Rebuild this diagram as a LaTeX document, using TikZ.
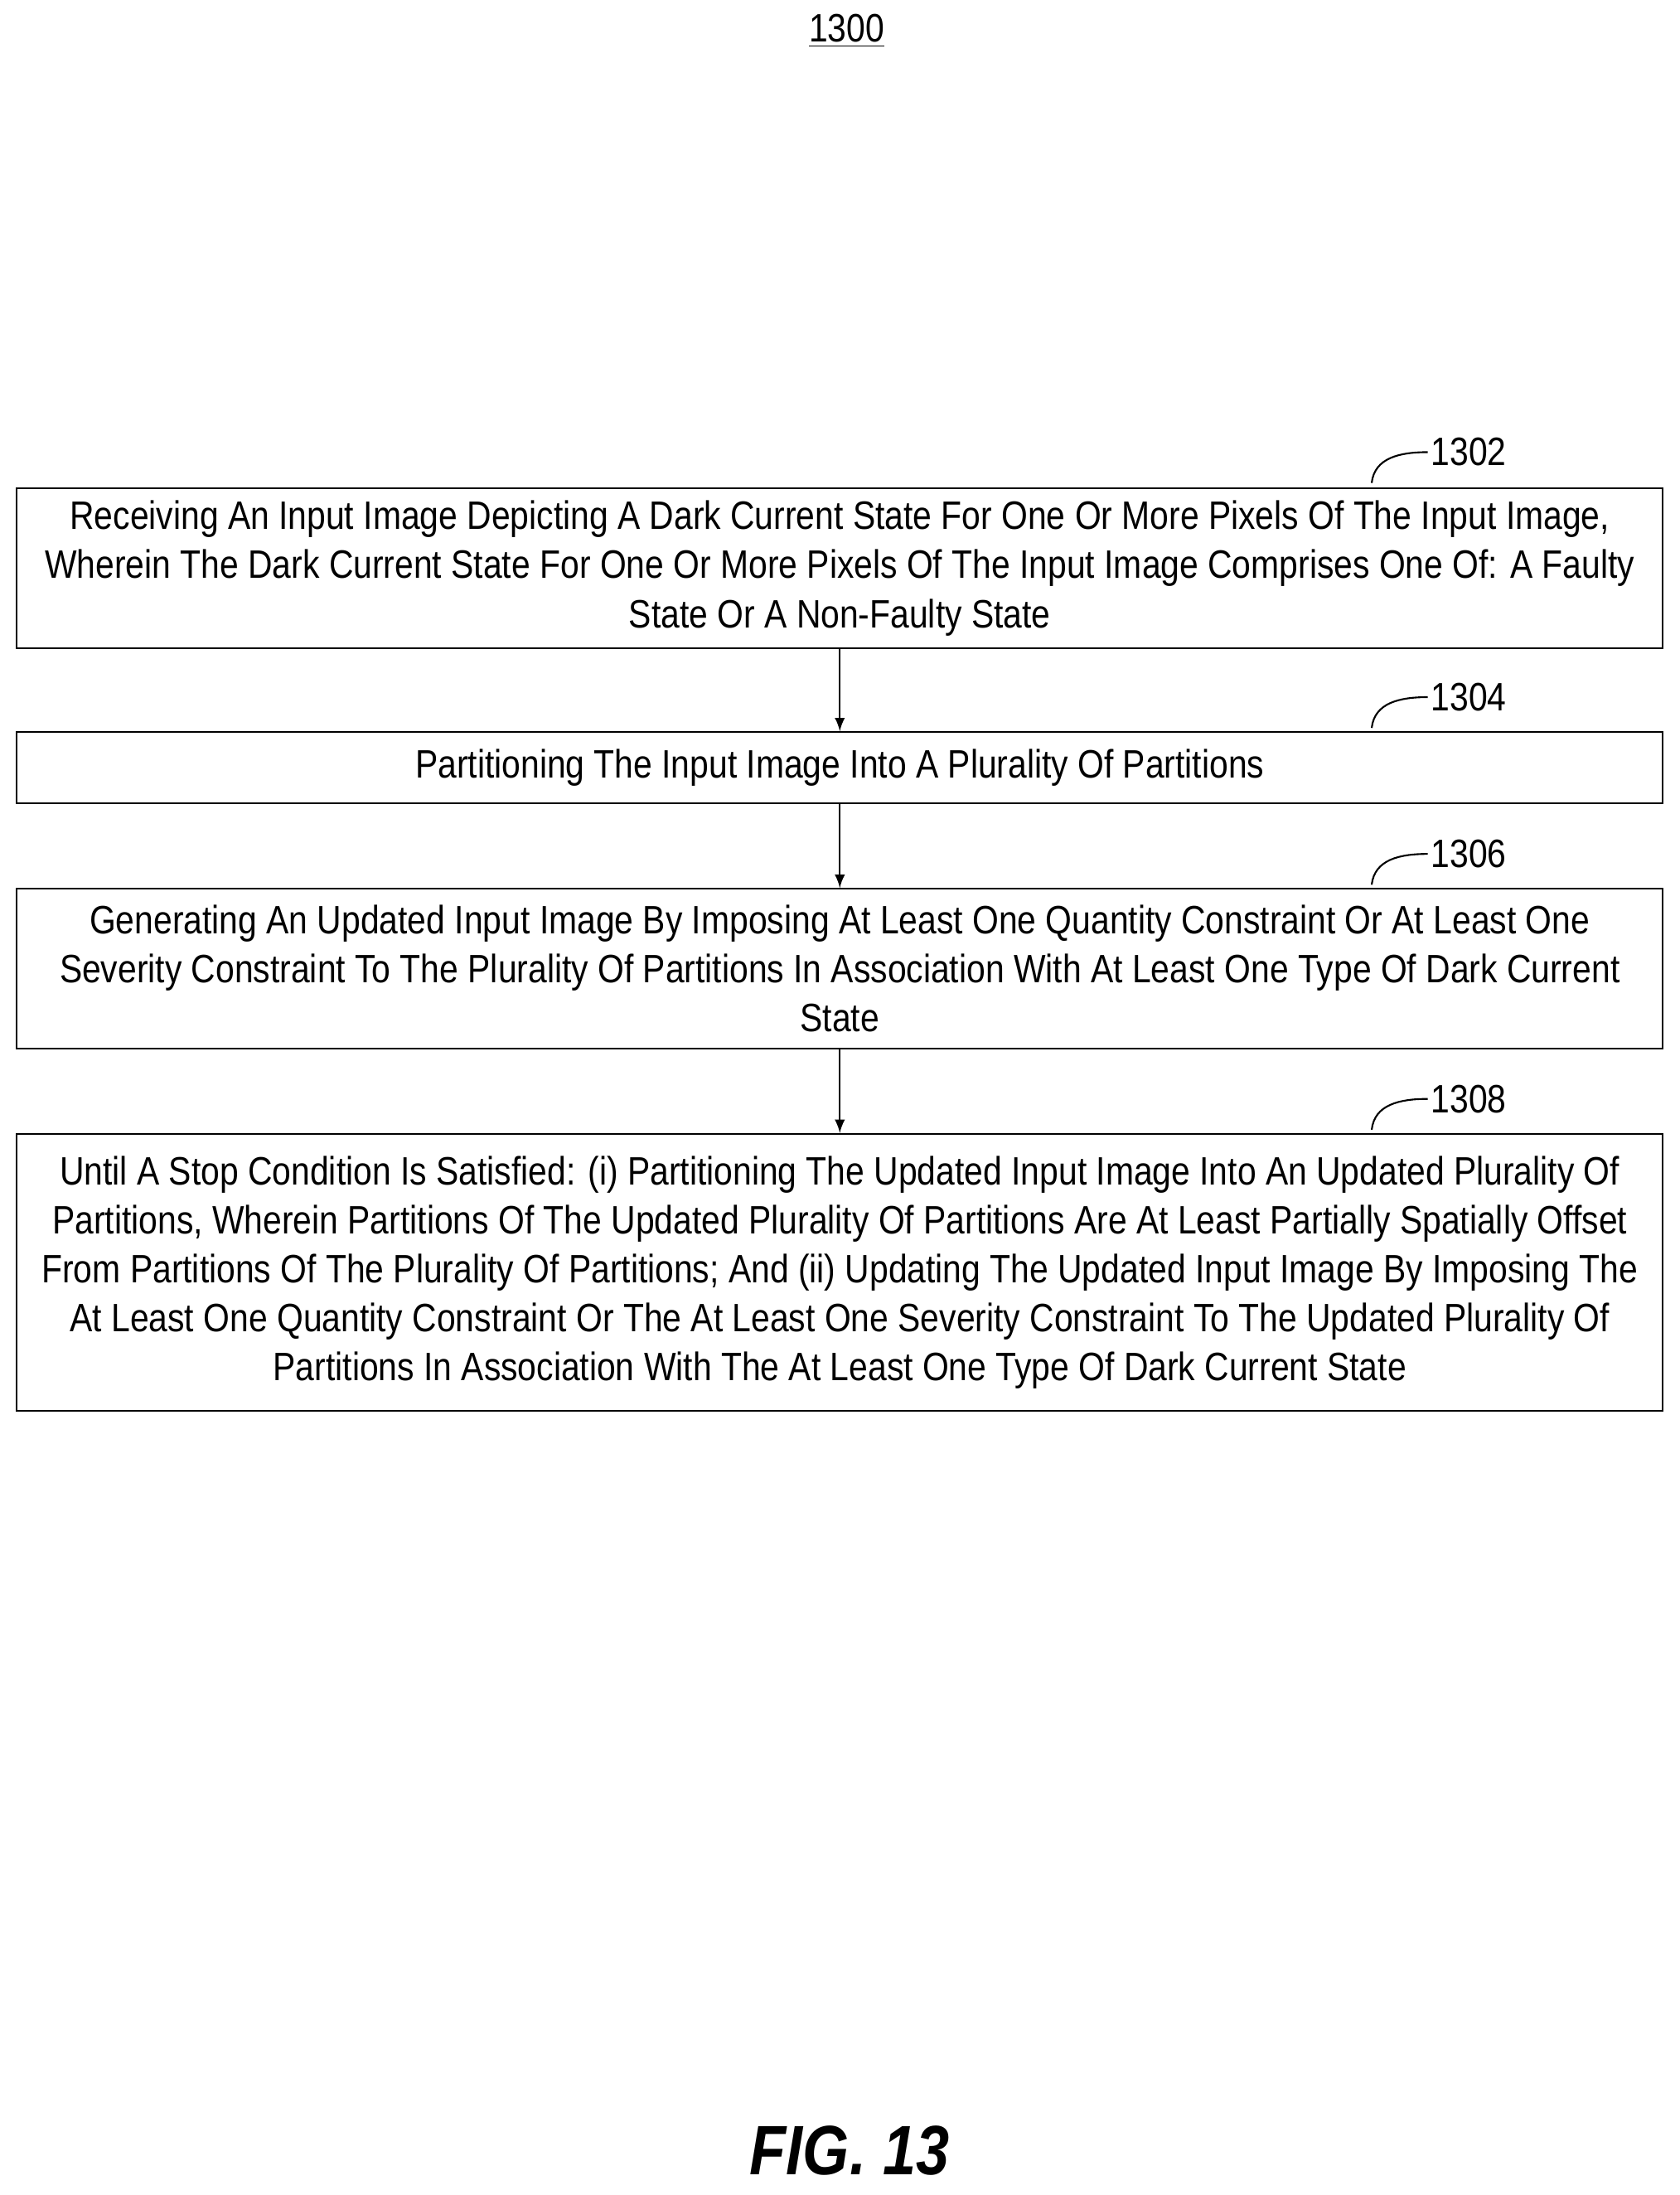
\documentclass[tikz,border=0pt]{standalone}
\usepackage{fontspec}
\setmainfont{Liberation Sans}[FakeStretch=0.855]
\usetikzlibrary{positioning}

\begin{document}
\begin{tikzpicture}[
    x=0.01689cm, y=-0.01689cm,
    stepbox/.style={draw, line width=0.6pt, minimum width=1176*0.01689cm, align=center, font=\fontsize{13.6}{16.8}\selectfont, inner sep=0pt},
    flow/.style={draw, line width=0.6pt, -latex},
    refnum/.style={font=\fontsize{13.6}{16}\selectfont, anchor=west, inner sep=1pt},
    hook/.style={draw, line width=0.6pt}
]
\useasboundingbox (0,0) rectangle (1200,1568);

% Title
\node[font=\fontsize{13.6}{16}\selectfont] (title) at (605,22) {\underline{1300}};

% Steps
\node[stepbox, minimum height=114*0.01689cm] (s1302) at (600,406) {Receiving An Input Image Depicting A Dark Current State For One Or More Pixels Of The Input Image,\\Wherein The Dark Current State For One Or More Pixels Of The Input Image Comprises One Of: A Faulty\\State Or A Non-Faulty State};
\node[stepbox, minimum height=51*0.01689cm] (s1304) at (600,548.5) {Partitioning The Input Image Into A Plurality Of Partitions};
\node[stepbox, minimum height=114*0.01689cm] (s1306) at (600,692) {Generating An Updated Input Image By Imposing At Least One Quantity Constraint Or At Least One\\Severity Constraint To The Plurality Of Partitions In Association With At Least One Type Of Dark Current\\State};
\node[stepbox, minimum height=198*0.01689cm] (s1308) at (600,909) {Until A Stop Condition Is Satisfied: (i) Partitioning The Updated Input Image Into An Updated Plurality Of\\Partitions, Wherein Partitions Of The Updated Plurality Of Partitions Are At Least Partially Spatially Offset\\From Partitions Of The Plurality Of Partitions; And (ii) Updating The Updated Input Image By Imposing The\\At Least One Quantity Constraint Or The At Least One Severity Constraint To The Updated Plurality Of\\Partitions In Association With The At Least One Type Of Dark Current State};

% Arrows
\path[flow] (s1302) -- (s1304);
\path[flow] (s1304) -- (s1306);
\path[flow] (s1306) -- (s1308);

% Reference numbers
\foreach \lbl/\yy in {1302/323, 1304/498, 1306/610, 1308/785} {
  \node[refnum] (n\lbl) at (1020,\yy) {\lbl};
  \path[hook] (980,\yy+22) .. controls (982,\yy+4) and (1000,\yy) .. (n\lbl.west);
}

% Figure label
\node[font=\bfseries\itshape\fontsize{24}{28}\selectfont] (fig) at (607,1536) {FIG. 13};
\end{tikzpicture}
\end{document}
